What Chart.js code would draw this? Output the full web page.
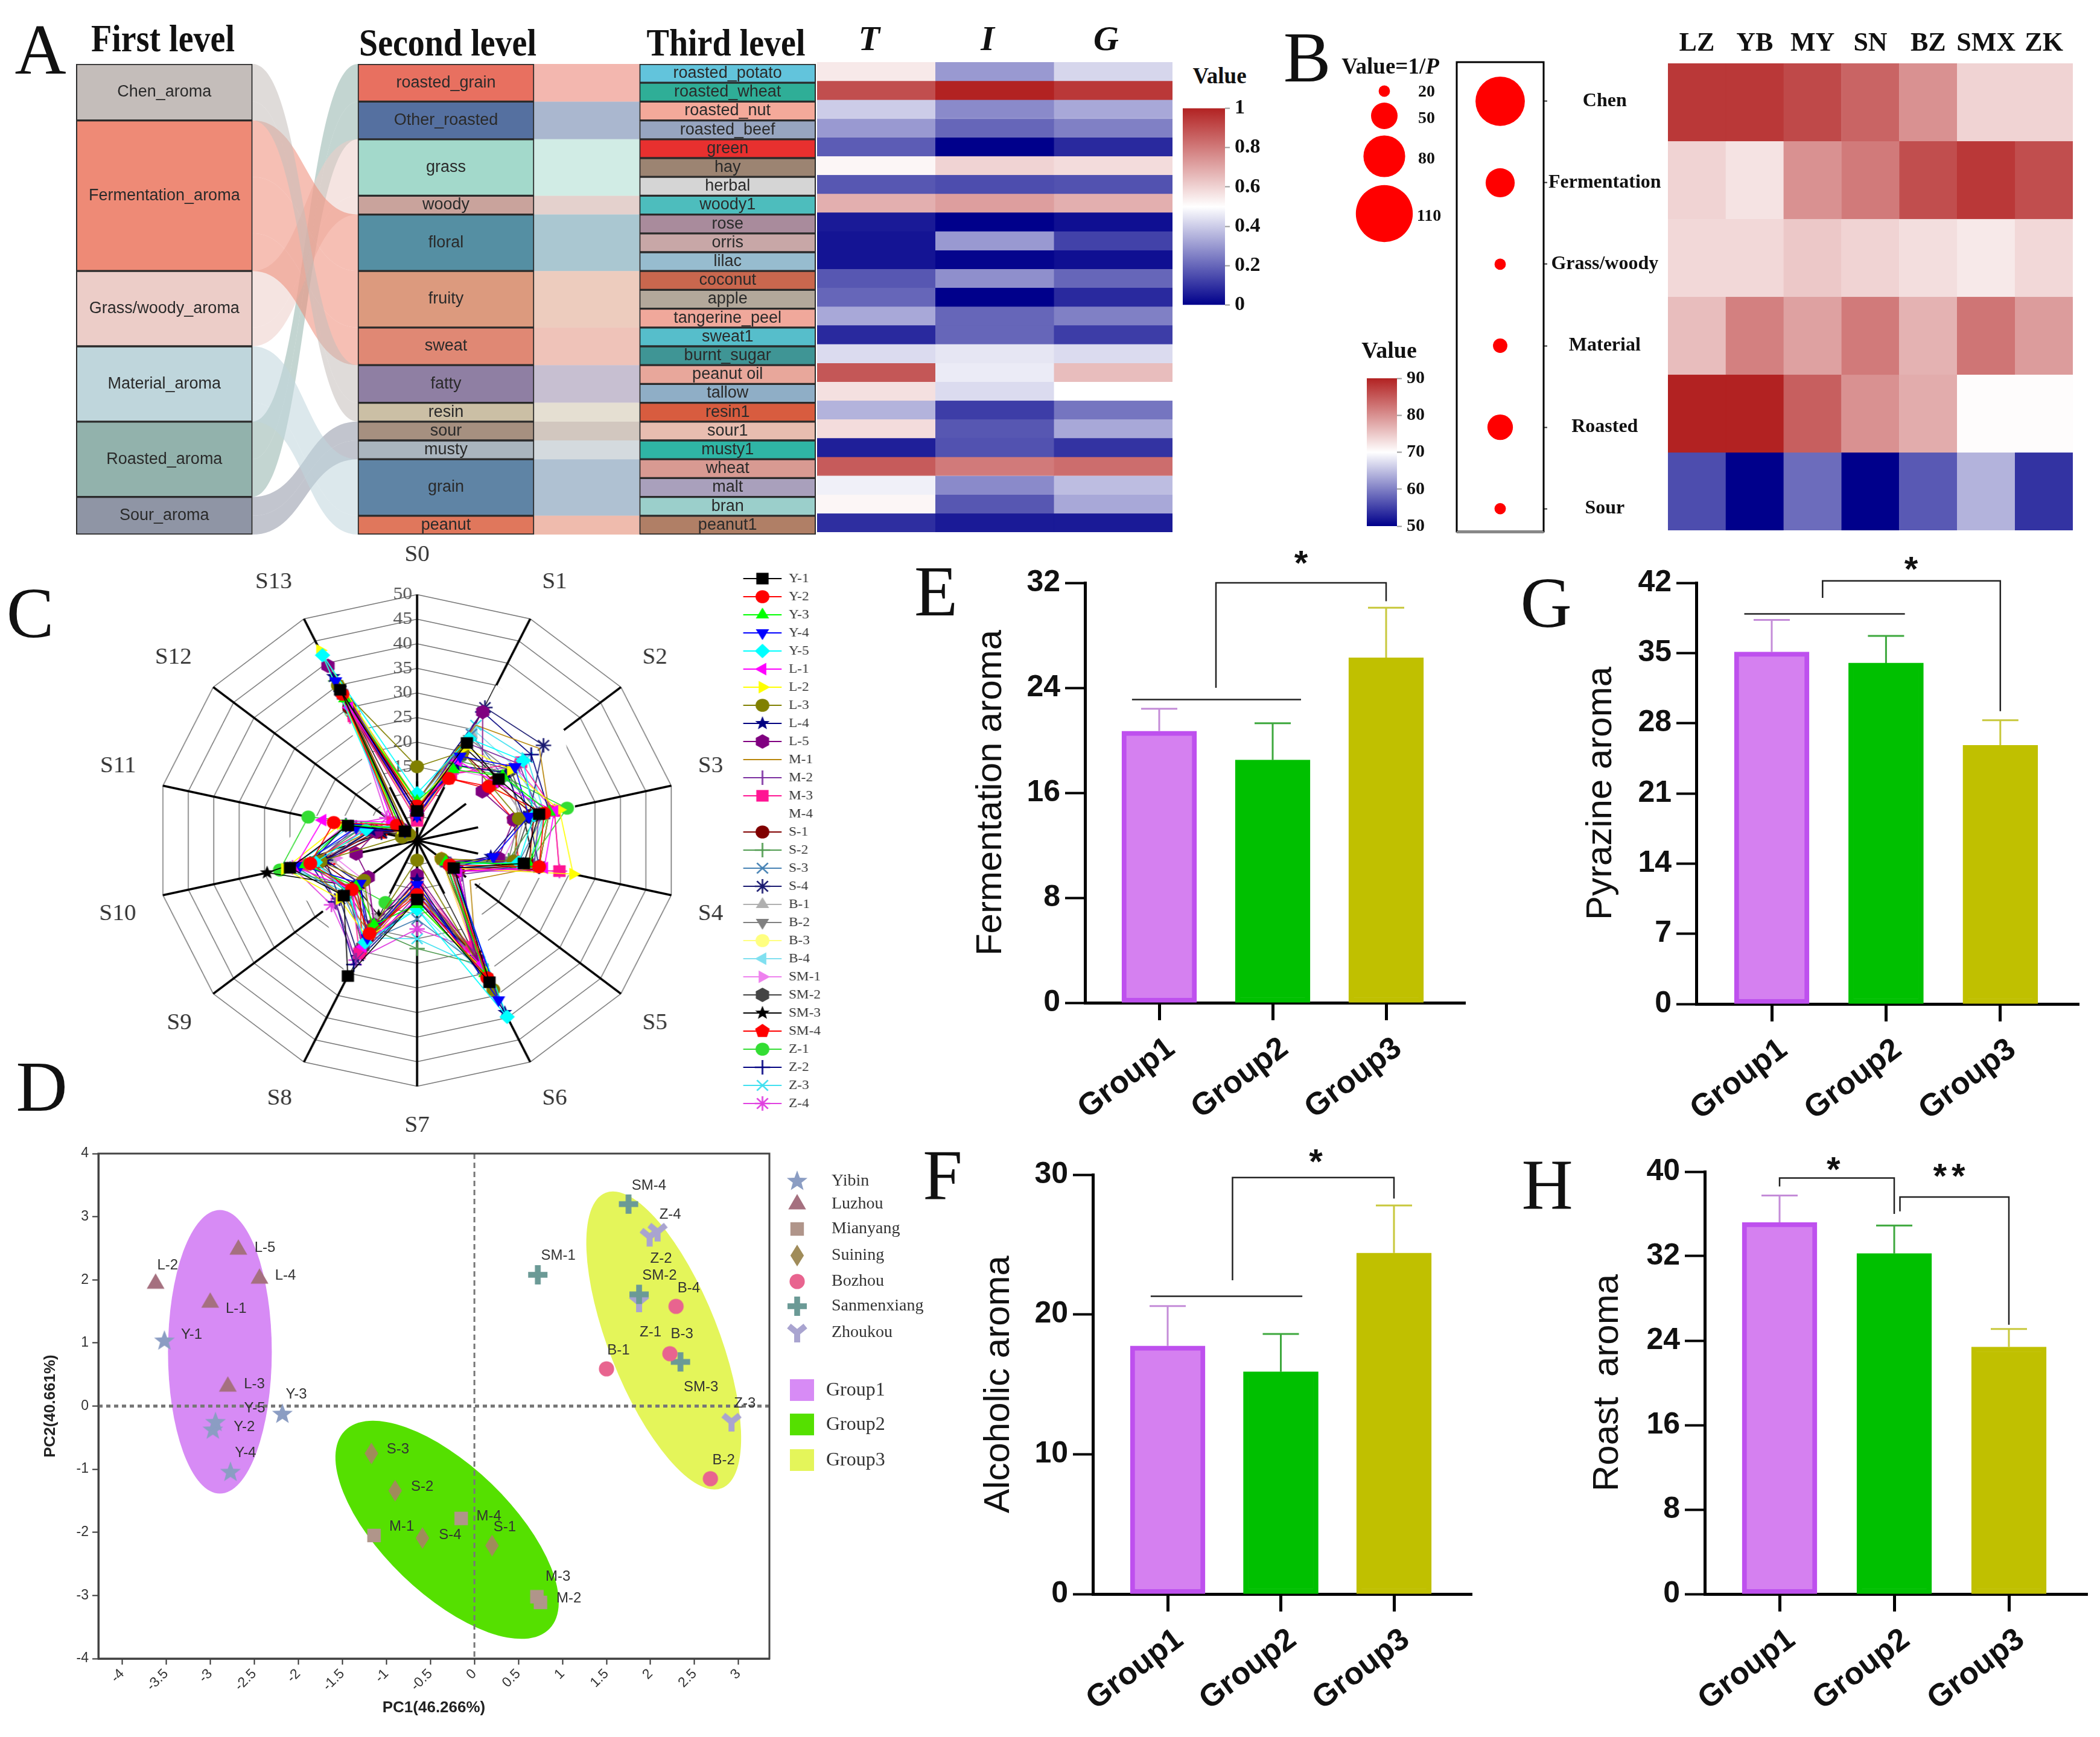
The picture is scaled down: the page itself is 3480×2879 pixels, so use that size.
<!DOCTYPE html>
<html>
<head>
<meta charset="utf-8">
<title>Aroma panels</title>
<script src="https://cdn.jsdelivr.net/npm/chart.js@4/dist/chart.umd.min.js"></script>
<style>
  html, body { margin: 0; padding: 0; background: #fff; }
  #page { position: relative; width: 3480px; height: 2879px; overflow: hidden; background: #fff; }
  #page canvas { position: absolute; }
  .txt { position: absolute; white-space: nowrap; line-height: 1; color: #111; font-family: 'Liberation Serif', serif; }
</style>
</head>
<body>
<div id="page"></div>
<script>
// ---- panel A
const firstNames = ["Chen_aroma", "Fermentation_aroma", "Grass/woody_aroma", "Material_aroma", "Roasted_aroma", "Sour_aroma"];
const firstSizes = [3, 8, 4, 4, 4, 2];
const firstColors = ["#C4BDBA", "#EE8A76", "#ECCDC8", "#BFD6DC", "#92B2AC", "#8F95A5"];
const secondNames = ["roasted_grain", "Other_roasted", "grass", "woody", "floral", "fruity", "sweat", "fatty", "resin", "sour", "musty", "grain", "peanut"];
const secondSizes = [2, 2, 3, 1, 3, 3, 2, 2, 1, 1, 1, 3, 1];
const secondParent = [4, 4, 2, 2, 1, 1, 1, 0, 0, 5, 5, 3, 3];
const secondColors = ["#E87060", "#5570A0", "#A3D9CB", "#C9A39C", "#558FA3", "#DC9A7E", "#E08874", "#8F7FA3", "#CBBFA5", "#A69080", "#AAB5BE", "#5F84A5", "#E0775C"];
const thirdNames = ["roasted_potato", "roasted_wheat", "roasted_nut", "roasted_beef", "green", "hay", "herbal", "woody1", "rose", "orris", "lilac", "coconut", "apple", "tangerine_peel", "sweat1", "burnt_sugar", "peanut oil", "tallow", "resin1", "sour1", "musty1", "wheat", "malt", "bran", "peanut1"];
const thirdColors = ["#62C4DC", "#2FAE97", "#F4A99A", "#97A5C0", "#E8302F", "#9C8472", "#D5D5D5", "#4DBDBD", "#A98B9C", "#C8A7A7", "#97BCCF", "#C9674E", "#B3A89B", "#F0A89B", "#56BECB", "#3F9595", "#E8A79B", "#8FAEC6", "#D85C3F", "#E8BDB0", "#2FB5A5", "#D89A92", "#A9A0BC", "#9BCFCB", "#B07F66"];
const tigLabels = ["T", "I", "G"];
const tValues = [.55, .90, .40, .30, .18, .52, .17, .68, .05, .04, .04, .17, .20, .33, .08, .43, .88, .57, .35, .58, .06, .87, .47, .52, .09];
const iValues = [.30, 1.0, .27, .20, 0, .60, .15, .72, 0, .30, .01, .28, 0, .20, .20, .45, .46, .43, .12, .17, .16, .80, .27, .17, .05];
const gValues = [.42, .95, .33, .25, .08, .58, .16, .68, .03, .13, .03, .20, .08, .25, .12, .43, .65, .50, .23, .33, .10, .83, .37, .33, .05];

// ---- panel B
const regionLabels = ["LZ", "YB", "MY", "SN", "BZ", "SMX", "ZK"];
const aromaRows = ["Chen", "Fermentation", "Grass/woody", "Material", "Roasted", "Sour"];
const chenHeat = [88, 88, 86.5, 84, 80, 74, 74];
const fermentationHeat = [74, 72.5, 80, 82, 86, 88, 86];
const grassHeat = [73.5, 73.5, 75, 74, 73, 72, 73.5];
const materialHeat = [76, 81.5, 78.5, 82, 77, 82.5, 79];
const roastedHeat = [90, 90, 84.5, 80, 77.5, 70.3, 70.3];
const sourHeat = [56, 50, 58.5, 50, 57, 64, 54];
const bubbleValues = [95, 55, 20, 26, 48, 20];
const bubbleKeyValues = [20, 50, 80, 110];

// ---- panel C
const radarAxes = ["S0", "S1", "S2", "S3", "S4", "S5", "S6", "S7", "S8", "S9", "S10", "S11", "S12", "S13"];
const radarRows = {
  "Y-1": [6, 22, 20, 24, 21, 9, 32, 12, 30.6, 18, 25, 13.6, 3, 34],
  "Y-2": [7, 14, 17.6, 25, 24, 8, 31, 11, 21, 16, 21, 16.4, 5, 33],
  "Y-3": [8, 16, 21, 26, 22, 7, 30, 13, 19, 15, 22, 14, 4, 32],
  "Y-4": [5, 19, 24, 22, 15, 9, 36, 9, 22, 14, 23, 12, 3, 36],
  "Y-5": [9.6, 23, 26, 23, 20, 8, 39.8, 14, 23, 17, 20, 10, 5, 41.8],
  "L-1": [6, 18, 19, 27, 25, 10, 28, 12, 24, 16, 24, 18.6, 6, 30],
  "L-2": [7, 21, 23, 28, 30.7, 9, 29, 13, 22, 19, 26, 15, 4, 42.9],
  "L-3": [15, 20, 18, 20, 19, 6, 33.7, 4, 20, 13, 19, 3, 2, 35],
  "L-4": [5, 17, 22, 21, 14.5, 8, 38.8, 8, 21, 14, 18, 9, 3, 37],
  "L-5": [6, 29, 16, 19, 16, 7, 27, 7, 19, 12, 12, 8, 4, 39.4],
  "M-1": [8, 26, 30, 26, 24, 13, 26, 10, 21, 18, 23, 9, 5, 38],
  "M-2": [6, 22, 25, 24, 23, 11, 25, 11, 27, 20, 20, 12, 4, 31],
  "M-3": [4, 15, 25.5, 27, 28, 9, 24, 9.5, 25.5, 16, 22, 10, 6, 28],
  "M-4": [0, 35, 36, 31, 31, 14, 39, 0, 31, 23, 30, 22, 8, 43],
  "S-1": [5, 20, 19, 23, 22, 10, 27, 10, 22, 15, 19, 8, 3, 30],
  "S-2": [7, 18, 22, 24, 18, 8, 28, 22, 20, 17, 21, 11, 4, 36],
  "S-3": [8, 24, 21, 25, 20, 7, 29, 16, 23, 18, 24, 11, 5, 33],
  "S-4": [6, 30, 31, 22, 24, 9, 26, 12, 26, 19, 18, 7, 3, 33.7],
  "B-1": [5, 24, 20, 21, 19, 8, 30, 11, 18, 14, 17, 9, 4, 29],
  "B-2": [6, 23, 22.7, 20, 18, 7, 29, 10, 20, 16, 20, 8, 3, 31],
  "B-3": [4, 20, 18, 24, 22, 6, 25, 9, 19, 15, 22, 10, 2, 35],
  "B-4": [7, 25, 24, 25, 23, 9, 31, 14, 21, 18, 23, 12, 3, 39],
  "SM-1": [5, 16, 20, 21, 17, 8, 26, 8, 18, 13, 16, 11, 4, 28],
  "SM-2": [6, 19, 23, 22, 19, 8, 27, 9, 24, 17, 19, 9, 3, 30],
  "SM-3": [4, 21, 20, 21, 23, 7, 30.6, 10, 17, 15, 29.5, 6.8, 2, 31],
  "SM-4": [5, 14, 17, 19, 20, 6, 25.5, 8, 24.5, 14, 17, 7, 2, 28],
  "Z-1": [7, 17, 21, 29.5, 21.8, 9, 27, 11, 14, 15, 27, 21.4, 5, 29],
  "Z-2": [8, 29, 28, 26, 24, 10, 28, 12, 28, 20, 21, 14, 4, 32],
  "Z-3": [6, 26, 27, 25, 22, 9, 29, 20, 22, 17, 25, 13, 3, 30],
  "Z-4": [5, 15, 24, 27, 28, 10, 24.5, 18, 27, 21, 24.5, 14, 7.4, 27.5]
};
const radarStyles = {
  "Y-1": ["#000000", "rect"], "Y-2": ["#FF0000", "circle"], "Y-3": ["#00FF00", "triUp"], "Y-4": ["#0000FF", "triDown"], "Y-5": ["#00FFFF", "diamond"],
  "L-1": ["#FF00FF", "triLeft"], "L-2": ["#FFFF00", "triRight"], "L-3": ["#808000", "circle"], "L-4": ["#000080", "star"], "L-5": ["#800080", "hex"],
  "M-1": ["#B8860B", "none"], "M-2": ["#7B2FA0", "bar"], "M-3": ["#FF1493", "rect"], "M-4": ["#FFFFFF", "none"],
  "S-1": ["#800000", "circle"], "S-2": ["#4D9A4D", "plus"], "S-3": ["#4682B4", "cross"], "S-4": ["#191970", "asterisk"],
  "B-1": ["#B0B0B0", "triUp"], "B-2": ["#808080", "triDown"], "B-3": ["#FFFF80", "circle"], "B-4": ["#80E0F0", "triLeft"],
  "SM-1": ["#EE82EE", "triRight"], "SM-2": ["#444444", "hex"], "SM-3": ["#000000", "star"], "SM-4": ["#FF0000", "pent"],
  "Z-1": ["#33DD33", "circle"], "Z-2": ["#000080", "plus"], "Z-3": ["#40E0F0", "cross"], "Z-4": ["#E040E0", "asterisk"]
};

// ---- panel D
const pcaSites = ["Yibin", "Luzhou", "Mianyang", "Suining", "Bozhou", "Sanmenxiang", "Zhoukou"];
const yibinNames = ["Y-1", "Y-2", "Y-3", "Y-4", "Y-5"];
const yibinX = [-3.52, -2.97, -2.18, -2.77, -2.94];
const yibinY = [1.03, -0.38, -0.13, -1.05, -0.26];
const luzhouNames = ["L-1", "L-2", "L-3", "L-4", "L-5"];
const luzhouX = [-3.0, -3.62, -2.80, -2.44, -2.68];
const luzhouY = [1.64, 1.94, 0.31, 2.02, 2.48];
const mianyangNames = ["M-1", "M-2", "M-3", "M-4"];
const mianyangX = [-1.14, 0.75, 0.71, -0.15];
const mianyangY = [-2.05, -3.11, -3.02, -1.78];
const suiningNames = ["S-1", "S-2", "S-3", "S-4"];
const suiningX = [0.2, -0.9, -1.17, -0.59];
const suiningY = [-2.21, -1.34, -0.75, -2.09];
const bozhouNames = ["B-1", "B-2", "B-3", "B-4"];
const bozhouX = [1.5, 2.68, 2.22, 2.29];
const bozhouY = [0.59, -1.15, 0.83, 1.58];
const sanmenNames = ["SM-1", "SM-2", "SM-3", "SM-4"];
const sanmenX = [0.72, 1.87, 2.34, 1.75];
const sanmenY = [2.08, 1.77, 0.70, 3.2];
const zhoukouNames = ["Z-1", "Z-2", "Z-3", "Z-4"];
const zhoukouX = [1.87, 1.99, 2.92, 2.08];
const zhoukouY = [1.64, 2.68, -0.25, 2.76];
const pcaXTicks = [-4, -3.5, -3, -2.5, -2, -1.5, -1, -0.5, 0, 0.5, 1, 1.5, 2, 2.5, 3];
const groupNames = ["Group1", "Group2", "Group3"];

// ---- panels E-H
const fermentationMeans = [20.7, 18.5, 26.3];
const fermentationErrs = [1.7, 2.8, 3.8];
const pyrazineMeans = [35.1, 34.0, 25.8];
const pyrazineErrs = [3.2, 2.7, 2.5];
const alcoholicMeans = [17.75, 15.9, 24.4];
const alcoholicErrs = [2.85, 2.7, 3.4];
const roastMeans = [35.2, 32.25, 23.4];
const roastErrs = [2.55, 2.65, 1.7];

const SANS = "'Liberation Sans', Arial, sans-serif";
const SERIF = "'Liberation Serif', 'Times New Roman', serif";
const page = document.getElementById("page");
Chart.defaults.animation = false;
Chart.defaults.responsive = false;
Chart.defaults.maintainAspectRatio = false;
Chart.defaults.devicePixelRatio = 1;
Chart.defaults.layout.autoPadding = false;
Chart.defaults.plugins.legend.display = false;
Chart.defaults.plugins.tooltip.enabled = false;

function addCanvas(left, top, w, h) {
  const c = document.createElement("canvas");
  c.width = w; c.height = h;
  c.style.left = left + "px"; c.style.top = top + "px";
  c.style.width = w + "px"; c.style.height = h + "px";
  page.appendChild(c);
  return c;
}

function addText(html, cx, cy, font, sy) {
  const d = document.createElement("div");
  d.className = "txt";
  d.innerHTML = html;
  d.style.left = cx + "px"; d.style.top = cy + "px";
  d.style.font = font;
  d.style.lineHeight = "1";
  d.style.transform = "translate(-50%,-50%) scaleY(" + (sy || 1) + ")";
  page.appendChild(d);
}

function heatColor(v, lo, hi) {
  const mid = (lo + hi) / 2;
  let a, b, t;
  if (v < mid) { a = [0, 0, 139]; b = [255, 255, 255]; t = (v - lo) / (mid - lo); }
  else { a = [255, 255, 255]; b = [178, 34, 34]; t = (v - mid) / (hi - mid); }
  const m = a.map((c, i) => Math.round(c + (b[i] - c) * t));
  return "rgb(" + m.join(",") + ")";
}

function markerImage(shape, color, size) {
  const c = document.createElement("canvas");
  c.width = c.height = size;
  const x = c.getContext("2d");
  x.translate(size / 2, size / 2);
  x.fillStyle = color; x.strokeStyle = color;
  const r = size / 2 - 1;
  const poly = (pts) => {
    x.beginPath();
    pts.forEach((p, i) => (i ? x.lineTo(p[0], p[1]) : x.moveTo(p[0], p[1])));
    x.closePath(); x.fill();
  };
  const ring = (n, rot, rad) => Array.from({ length: n }, (_, i) => {
    const a = rot + i * 2 * Math.PI / n;
    return [rad * Math.cos(a), rad * Math.sin(a)];
  });
  const up = -Math.PI / 2;
  x.lineWidth = Math.max(2, size / 10);
  if (shape === "rect") x.fillRect(-r * .8, -r * .8, r * 1.6, r * 1.6);
  else if (shape === "circle") { x.beginPath(); x.arc(0, 0, r * .9, 0, 7); x.fill(); }
  else if (shape === "triUp") poly(ring(3, up, r));
  else if (shape === "triDown") poly(ring(3, -up, r));
  else if (shape === "triLeft") poly(ring(3, Math.PI, r));
  else if (shape === "triRight") poly(ring(3, 0, r));
  else if (shape === "diamond") poly(ring(4, up, r));
  else if (shape === "tallDiamond") poly([[0, -r], [r * .62, 0], [0, r], [-r * .62, 0]]);
  else if (shape === "hex") poly(ring(6, up, r));
  else if (shape === "pent") poly(ring(5, up, r));
  else if (shape === "star") {
    const o = ring(5, up, r), n = ring(5, up + Math.PI / 5, r * .42), pts = [];
    o.forEach((p, i) => { pts.push(p); pts.push(n[i]); });
    poly(pts);
  } else if (shape === "fatPlus") {
    x.fillRect(-r * .3, -r, r * .6, r * 2); x.fillRect(-r, -r * .3, r * 2, r * .6);
  } else if (shape === "yShape") {
    x.lineWidth = r * .62;
    x.beginPath(); x.moveTo(0, r); x.lineTo(0, 0); x.moveTo(-r * .85, -r * .7); x.lineTo(0, 0); x.lineTo(r * .85, -r * .7); x.stroke();
  } else if (shape === "bar") {
    x.beginPath(); x.moveTo(0, -r); x.lineTo(0, r); x.stroke();
  } else if (shape === "plus" || shape === "cross" || shape === "asterisk") {
    x.beginPath();
    if (shape !== "cross") { x.moveTo(0, -r); x.lineTo(0, r); x.moveTo(-r, 0); x.lineTo(r, 0); }
    if (shape !== "plus") { const k = r * .72; x.moveTo(-k, -k); x.lineTo(k, k); x.moveTo(-k, k); x.lineTo(k, -k); }
    x.stroke();
  }
  return c;
}

// ---- A: sankey columns as a stacked bar chart, ribbons drawn behind
function ribbon(ctx, x0, x1, a0, b0, a1, b1, color, alpha) {
  const m = (x0 + x1) / 2;
  ctx.save();
  ctx.globalAlpha = alpha;
  ctx.fillStyle = color;
  ctx.beginPath();
  ctx.moveTo(x0, a0);
  ctx.bezierCurveTo(m, a0, m, a1, x1, a1);
  ctx.lineTo(x1, b1);
  ctx.bezierCurveTo(m, b1, m, b0, x0, b0);
  ctx.closePath();
  ctx.fill();
  ctx.restore();
}

const columnOf = (names, sizes, colors, col) => names.map((n, i) => {
  const data = [null, null, null];
  data[col] = sizes[i];
  return { label: n, data: data, backgroundColor: colors[i] };
});
const thirdSizes = thirdNames.map(() => 1);

const sankeyPlugin = {
  id: "sankeyLinks",
  beforeDatasetsDraw(chart) {
    const { ctx, scales } = chart;
    const Y = v => scales.y.getPixelForValue(v);
    const half = 146;
    const c0 = scales.x.getPixelForValue(0) + half, c1 = scales.x.getPixelForValue(1) - half;
    const c1r = scales.x.getPixelForValue(1) + half, c2 = scales.x.getPixelForValue(2) - half;
    let acc = 0;
    const cursor = firstSizes.map(s => { const t = acc; acc += s; return t; });
    let pos = 0;
    secondNames.forEach((n, i) => {
      const p = secondParent[i], s = secondSizes[i];
      ribbon(ctx, c0, c1, Y(cursor[p]), Y(cursor[p] + s), Y(pos), Y(pos + s), firstColors[p], 0.55);
      ribbon(ctx, c1r, c2, Y(pos), Y(pos + s), Y(pos), Y(pos + s), secondColors[i], 0.5);
      cursor[p] += s;
      pos += s;
    });
  },
  afterDatasetsDraw(chart) {
    const { ctx } = chart;
    ctx.save();
    ctx.textAlign = "center";
    ctx.textBaseline = "middle";
    ctx.fillStyle = "#2a2a2a";
    ctx.font = "27px " + SANS;
    chart.data.datasets.forEach((ds, i) => {
      const col = ds.data.findIndex(v => v !== null);
      const bar = chart.getDatasetMeta(i).data[col];
      ctx.fillText(ds.label, bar.x, (bar.y + bar.base) / 2);
    });
    ctx.restore();
  }
};

new Chart(addCanvas(39, 96, 1400, 794), {
  type: "bar",
  data: {
    labels: ["First level", "Second level", "Third level"],
    datasets: columnOf(firstNames, firstSizes, firstColors, 0)
      .concat(columnOf(secondNames, secondSizes, secondColors, 1))
      .concat(columnOf(thirdNames, thirdSizes, thirdColors, 2))
      .map(d => Object.assign(d, { borderColor: "#2b2b2b", borderWidth: 2, borderSkipped: false, barThickness: 292 }))
  },
  options: {
    layout: { padding: { top: 10, bottom: 4 } },
    scales: {
      x: { display: false, stacked: true },
      y: { display: false, stacked: true, reverse: true, min: 0, max: 25 }
    }
  },
  plugins: [sankeyPlugin]
});

// ---- A: heatmap
function cellDataset(label, vals, lo, hi) {
  const colors = vals.map(v => heatColor(v, lo, hi));
  return { label: label, data: vals.map(() => 1), backgroundColor: colors, borderColor: colors, borderWidth: 1, borderSkipped: false, barPercentage: 1, categoryPercentage: 1 };
}

new Chart(addCanvas(1354, 20, 589, 865), {
  type: "bar",
  data: {
    labels: tigLabels,
    datasets: thirdNames.map((n, r) => cellDataset(n, [tValues[r], iValues[r], gValues[r]], 0, 1))
  },
  options: {
    layout: { padding: { bottom: 3 } },
    scales: {
      x: {
        position: "top", stacked: true, afterFit: s => { s.height = 83; },
        grid: { display: false, drawTicks: false }, border: { display: false },
        ticks: { color: "#111", labelOffset: -12, padding: 0, font: { family: SERIF, size: 58, weight: "bold", style: "italic" } }
      },
      y: { display: false, stacked: true, reverse: true, min: 0, max: 25 }
    }
  }
});

// ---- colour bars
function colorBar(left, top, w, h, lo, hi, step, font, padR) {
  new Chart(addCanvas(left, top, w, h), {
    type: "bar",
    data: {
      labels: ["Value"],
      datasets: [{
        data: [[lo, hi]],
        barPercentage: 1, categoryPercentage: 1,
        backgroundColor(ctx) {
          const a = ctx.chart.chartArea;
          if (!a) return "#fff";
          const g = ctx.chart.ctx.createLinearGradient(0, a.bottom, 0, a.top);
          g.addColorStop(0, "#00008B");
          g.addColorStop(0.5, "#FFFFFF");
          g.addColorStop(1, "#B22222");
          return g;
        }
      }]
    },
    options: {
      layout: { padding: { top: 20, bottom: 20 } },
      scales: {
        x: { display: false },
        y: {
          position: "right", min: lo, max: hi,
          afterFit: s => { s.width = padR; },
          grid: { drawOnChartArea: false, tickLength: 8, tickColor: "#999", tickWidth: 2 },
          border: { display: false },
          ticks: { stepSize: step, padding: 8, color: "#111", font: font, callback: v => String(+v.toFixed(1)) }
        }
      }
    }
  });
}
colorBar(1960, 151, 170, 383, 0, 1, 0.2, { family: SERIF, size: 34, weight: "bold" }, 100);
colorBar(2265, 601, 120, 297, 50, 90, 10, { family: SERIF, size: 30, weight: "bold" }, 70);

// ---- B: bubbles with key, and the heatmap
const bubbleRadius = v => v * 0.42 + 1;
const bubblePlugin = {
  id: "bubbleFrame",
  afterDatasetsDraw(chart) {
    const { ctx, chartArea: a } = chart;
    ctx.save();
    ctx.strokeStyle = "#000";
    ctx.lineWidth = 3;
    ctx.strokeRect(a.left, a.top, a.right - a.left, a.bottom - a.top);
    ctx.strokeStyle = "#888";
    ctx.lineWidth = 4;
    ctx.beginPath(); ctx.moveTo(a.left, a.bottom + 1); ctx.lineTo(a.right, a.bottom + 1); ctx.stroke();
    // size key, left of the frame
    const keyY = [56, 97, 164, 259];
    ctx.fillStyle = "#FF0000";
    bubbleKeyValues.forEach((v, i) => {
      ctx.beginPath(); ctx.arc(54, keyY[i], bubbleRadius(v), 0, 7); ctx.fill();
    });
    ctx.fillStyle = "#111";
    ctx.font = "bold 28px " + SERIF;
    ctx.textAlign = "center"; ctx.textBaseline = "middle";
    bubbleKeyValues.forEach((v, i) => ctx.fillText(String(v), 124 + (i === 3 ? 4 : 0), keyY[i] + (i === 0 ? 2 : 5)));
    ctx.restore();
  }
};

new Chart(addCanvas(2240, 95, 530, 795), {
  type: "bubble",
  data: {
    datasets: [{
      label: "Value=1/P",
      data: bubbleValues.map((v, i) => ({ x: 0, y: i, r: bubbleRadius(v) })),
      backgroundColor: "#FF0000", borderWidth: 0, clip: false
    }]
  },
  options: {
    layout: { padding: { left: 174, top: 8, bottom: 9 } },
    scales: {
      x: { display: false, min: -1, max: 1 },
      y: {
        position: "right", reverse: true, min: -0.48, max: 5.28,
        afterFit: s => { s.width = 212; s.paddingTop = 0; s.paddingBottom = 0; },
        afterBuildTicks: s => { s.ticks = aromaRows.map((_, i) => ({ value: i })); },
        grid: { drawOnChartArea: false, tickLength: 6, tickColor: "#333", tickWidth: 2 },
        border: { display: false },
        ticks: {
          callback: v => aromaRows[v], padding: 2, color: "#111", crossAlign: "center",
          font: { family: SERIF, size: 32, weight: "bold" }
        }
      }
    }
  },
  plugins: [bubblePlugin]
});

new Chart(addCanvas(2764, 30, 671, 852), {
  type: "bar",
  data: {
    labels: regionLabels,
    datasets: [chenHeat, fermentationHeat, grassHeat, materialHeat, roastedHeat, sourHeat]
      .map((row, i) => cellDataset(aromaRows[i], row, 50, 90))
  },
  options: {
    layout: { padding: { bottom: 3 } },
    scales: {
      x: {
        position: "top", stacked: true, afterFit: s => { s.height = 75; },
        grid: { display: false, drawTicks: false }, border: { display: false },
        ticks: { color: "#111", padding: 6, autoSkip: false, maxRotation: 0, font: { family: SERIF, size: 44, weight: "bold" } }
      },
      y: { display: false, stacked: true, reverse: true, min: 0, max: 6 }
    }
  }
});

// ---- C: radar
const radarNames = Object.keys(radarRows);
const MASK = radarNames.indexOf("M-4");
const radarPlugin = {
  id: "radarExtras",
  beforeDraw(chart) {
    // line part of each legend key, under the marker
    const { ctx, legend } = chart;
    ctx.save();
    ctx.lineWidth = 2;
    legend.legendHitBoxes.forEach((b, i) => {
      ctx.strokeStyle = radarStyles[radarNames[i]][0];
      ctx.beginPath();
      ctx.moveTo(b.left, b.top + b.height / 2);
      ctx.lineTo(b.left + 60, b.top + b.height / 2);
      ctx.stroke();
    });
    ctx.restore();
  },
  afterDatasetDraw(chart, args) {
    if (args.index !== MASK) return;
    const { ctx } = chart;
    const r = chart.scales.r;
    ctx.save();
    ctx.strokeStyle = "#000";
    ctx.lineWidth = 3.5;
    radarAxes.forEach((n, i) => {
      const p = r.getPointPositionForValue(i, 12);
      ctx.beginPath(); ctx.moveTo(r.xCenter, r.yCenter); ctx.lineTo(p.x, p.y); ctx.stroke();
    });
    ctx.restore();
  }
};

const radarCanvas = addCanvas(141, 899, 1160, 990);
radarCanvas.style.transformOrigin = "left top";
radarCanvas.style.transform = "scaleX(1.06)";
new Chart(radarCanvas, {
  type: "radar",
  data: {
    labels: radarAxes,
    datasets: radarNames.map((n, i) => {
      const st = radarStyles[n];
      return {
        label: n,
        data: radarRows[n],
        borderColor: st[0],
        backgroundColor: st[0],
        borderWidth: i === MASK ? 1 : 1.6,
        fill: i === MASK ? "start" : false,
        order: i === MASK ? 100 : i,
        pointStyle: markerImage(st[1], st[0], 26),
        pointRadius: 10
      };
    })
  },
  options: {
    plugins: {
      legend: {
        display: true, position: "right",
        labels: {
          usePointStyle: true, pointStyleWidth: 60, boxHeight: 20, padding: 8, color: "#333",
          font: { family: SERIF, size: 22 },
          sort: (a, b) => a.datasetIndex - b.datasetIndex
        }
      }
    },
    scales: {
      r: {
        min: 0, max: 50,
        grid: { color: "#777", lineWidth: 1.5 },
        angleLines: { color: "#000", lineWidth: 3.5 },
        pointLabels: { color: "#333", padding: 26, font: { family: SERIF, size: 37 } },
        ticks: {
          stepSize: 5, showLabelBackdrop: false, color: "#555",
          font: { family: SERIF, size: 30 },
          callback: v => (v >= 15 ? v + "\u00a0\u00a0\u00a0\u00a0\u00a0\u00a0" : "")
        }
      }
    }
  },
  plugins: [radarPlugin]
});

// ---- D: PCA scatter
const pcaStyles = [
  ["star", "#8B9DC3", 38], ["triUp", "#A5707F", 36], ["rect", "#B0958A", 30], ["tallDiamond", "#A08C5A", 38],
  ["circle", "#E8648F", 30], ["fatPlus", "#6B9A96", 34], ["yShape", "#A9A4D0", 34]
];
const pcaColumns = [
  [yibinNames, yibinX, yibinY], [luzhouNames, luzhouX, luzhouY], [mianyangNames, mianyangX, mianyangY],
  [suiningNames, suiningX, suiningY], [bozhouNames, bozhouX, bozhouY], [sanmenNames, sanmenX, sanmenY], [zhoukouNames, zhoukouX, zhoukouY]
];
const labelShift = {
  "Y-1": [45, -10], "Y-2": [52, -5], "Y-3": [23, -33], "Y-4": [25, -32], "Y-5": [65, -23],
  "L-1": [43, 10], "L-2": [20, -30], "L-3": [44, -4], "L-4": [43, -5], "L-5": [44, -3],
  "M-1": [46, -15], "M-2": [47, -7], "M-3": [35, -33], "M-4": [46, -3],
  "S-1": [21, -30], "S-2": [45, -6], "S-3": [44, -7], "S-4": [46, -5],
  "B-1": [20, -30], "B-2": [22, -30], "B-3": [20, -32], "B-4": [21, -30],
  "SM-1": [34, -32], "SM-2": [34, -31], "SM-3": [34, 42], "SM-4": [34, -30],
  "Z-1": [19, 49], "Z-2": [19, 36], "Z-3": [22, -30], "Z-4": [21, -28]
};
const ellipses = [
  { cx: -2.89, cy: 0.86, a: 235, b: 86, rot: 90, color: "#D78BF5" },
  { cx: -0.31, cy: -1.96, a: 236, b: 106, rot: 44, color: "#55E000" },
  { cx: 2.15, cy: 1.04, a: 263, b: 91, rot: 68.5, color: "#E4F55A" }
];
const groupSwatches = ["#D78BF5", "#55E000", "#E4F55A"];

const pcaPlugin = {
  id: "pcaExtras",
  beforeDatasetsDraw(chart) {
    const { ctx, chartArea: a, scales } = chart;
    ctx.save();
    ellipses.forEach(e => {
      ctx.fillStyle = e.color;
      ctx.beginPath();
      ctx.ellipse(scales.x.getPixelForValue(e.cx), scales.y.getPixelForValue(e.cy), e.a, e.b, e.rot * Math.PI / 180, 0, 7);
      ctx.fill();
    });
    ctx.strokeStyle = "#777";
    ctx.lineWidth = 3;
    ctx.setLineDash([9, 6]);
    ctx.beginPath(); ctx.moveTo(scales.x.getPixelForValue(0), a.top); ctx.lineTo(scales.x.getPixelForValue(0), a.bottom); ctx.stroke();
    ctx.lineWidth = 5;
    ctx.setLineDash([7, 6]);
    ctx.beginPath(); ctx.moveTo(a.left, scales.y.getPixelForValue(0)); ctx.lineTo(a.right, scales.y.getPixelForValue(0)); ctx.stroke();
    ctx.restore();
  },
  afterDatasetsDraw(chart) {
    const { ctx, chartArea: a } = chart;
    ctx.save();
    ctx.strokeStyle = "#444";
    ctx.lineWidth = 3;
    ctx.strokeRect(a.left, a.top, a.right - a.left, a.bottom - a.top);
    ctx.fillStyle = "#333";
    ctx.font = "24px " + SANS;
    ctx.textAlign = "center"; ctx.textBaseline = "middle";
    chart.data.datasets.forEach((ds, i) => {
      chart.getDatasetMeta(i).data.forEach((pt, j) => {
        const name = pcaColumns[i][0][j], s = labelShift[name];
        ctx.fillText(name, pt.x + s[0], pt.y + s[1]);
      });
    });
    // site and group key, right of the plot
    const keyY = [68, 106, 147, 191, 234, 275, 319];
    ctx.textAlign = "left";
    ctx.font = "28px " + SERIF;
    pcaSites.forEach((n, i) => {
      const img = chart.data.datasets[i].pointStyle;
      ctx.drawImage(img, 1253 - img.width / 2, keyY[i] - img.height / 2);
      ctx.fillText(n, 1310, keyY[i]);
    });
    const swatchY = [396, 453, 512];
    ctx.font = "32px " + SERIF;
    groupNames.forEach((n, i) => {
      ctx.fillStyle = groupSwatches[i];
      ctx.fillRect(1241, swatchY[i], 40, 36);
      ctx.fillStyle = "#333";
      ctx.fillText(n, 1301, swatchY[i] + 19);
    });
    ctx.restore();
  }
};

new Chart(addCanvas(68, 1890, 1500, 956), {
  type: "scatter",
  data: {
    datasets: pcaColumns.map((col, i) => ({
      label: pcaSites[i],
      data: col[1].map((x, j) => ({ x: x, y: col[2][j] })),
      pointStyle: markerImage(pcaStyles[i][0], pcaStyles[i][1], pcaStyles[i][2]),
      pointRadius: 14
    }))
  },
  options: {
    layout: { padding: { top: 22, right: 293 } },
    scales: {
      x: {
        min: -4.27, max: 3.35,
        afterFit: s => { s.height = 97; },
        afterBuildTicks: s => { s.ticks = pcaXTicks.map(v => ({ value: v })); },
        grid: { display: true, drawOnChartArea: false, tickLength: 10, tickColor: "#333", tickWidth: 2 },
        border: { color: "#333", width: 3 },
        title: { display: true, text: "PC1(46.266%)", color: "#222", padding: 0, font: { family: SANS, size: 26, weight: "bold" } },
        ticks: { callback: v => String(v), color: "#333", padding: 2, maxRotation: 45, minRotation: 45, font: { family: SANS, size: 23 } }
      },
      y: {
        min: -4, max: 4,
        afterFit: s => { s.width = 95; },
        grid: { display: true, drawOnChartArea: false, tickLength: 10, tickColor: "#333", tickWidth: 2 },
        border: { color: "#333", width: 3 },
        title: { display: true, text: "PC2(40.661%)", color: "#222", padding: 0, font: { family: SANS, size: 26, weight: "bold" } },
        ticks: { stepSize: 1, callback: v => String(v), color: "#333", padding: 6, font: { family: SANS, size: 23 } }
      }
    }
  },
  plugins: [pcaPlugin]
});

// ---- E-H: bar panels
const groupFill = ["#D580F0", "#00C000", "#C0C000"];
const groupEdge = ["#BE50EE", "#00C000", "#C0C000"];
const errColor = ["#C48CD8", "#3DA83D", "#C8C83C"];

function barPanel(cfg) {
  const padTop = 70;
  const left = cfg.titleX - 36, top = cfg.top - padTop;
  const width = cfg.right - left + 20, height = cfg.bottom - top + 215;
  const xMin = 1 - (cfg.c1 - cfg.axis) / cfg.step, xMax = 1 + (cfg.right - cfg.c1) / cfg.step;
  const extras = {
    id: "errorsAndBrackets",
    afterDatasetsDraw(chart) {
      const { ctx, scales } = chart;
      const X = v => scales.x.getPixelForValue(v), Y = v => scales.y.getPixelForValue(v);
      ctx.save();
      cfg.means.forEach((m, i) => {
        ctx.strokeStyle = errColor[i];
        ctx.lineWidth = 3;
        ctx.beginPath();
        ctx.moveTo(X(i + 1), Y(m)); ctx.lineTo(X(i + 1), Y(m + cfg.errs[i]));
        ctx.moveTo(X(i + 1) - 30, Y(m + cfg.errs[i])); ctx.lineTo(X(i + 1) + 30, Y(m + cfg.errs[i]));
        ctx.stroke();
      });
      ctx.strokeStyle = "#222";
      ctx.lineWidth = 2.5;
      (cfg.brackets || []).forEach(b => {
        ctx.beginPath();
        ctx.moveTo(X(b[0]), Y(b[1])); ctx.lineTo(X(b[0]), Y(b[2])); ctx.lineTo(X(b[3]), Y(b[2])); ctx.lineTo(X(b[3]), Y(b[4]));
        ctx.stroke();
      });
      (cfg.spans || []).forEach(s => {
        ctx.beginPath(); ctx.moveTo(X(s[0]), Y(s[2])); ctx.lineTo(X(s[1]), Y(s[2])); ctx.stroke();
      });
      ctx.fillStyle = "#111";
      ctx.font = "bold 58px " + SANS;
      ctx.textAlign = "center"; ctx.textBaseline = "middle";
      (cfg.stars || []).forEach(s => {
        ctx.letterSpacing = s[0].length > 1 ? "8px" : "0px";
        ctx.fillText(s[0], X(s[1]), Y(s[2]) + 14);
      });
      ctx.restore();
    }
  };
  new Chart(addCanvas(left, top, width, height), {
    type: "bar",
    data: {
      datasets: [{
        label: cfg.title,
        data: cfg.means.map((m, i) => ({ x: i + 1, y: m })),
        backgroundColor: groupFill, borderColor: groupEdge, borderWidth: 8, borderSkipped: false,
        barThickness: 124
      }]
    },
    options: {
      layout: { padding: { top: padTop, right: 20 } },
      scales: {
        x: {
          type: "linear", min: xMin, max: xMax, offset: false,
          afterFit: s => { s.height = 215; },
          afterBuildTicks: s => { s.ticks = groupNames.map((_, i) => ({ value: i + 1 })); },
          grid: { display: true, offset: false, drawOnChartArea: false, tickLength: 29, tickWidth: 5, tickColor: "#000" },
          border: { color: "#000", width: 5 },
          ticks: { callback: v => groupNames[v - 1], color: "#111", padding: 16, labelOffset: 20, maxRotation: 37, minRotation: 37, font: { family: SANS, size: 52, weight: "bold" } }
        },
        y: {
          min: 0, max: cfg.max,
          afterFit: s => { s.width = cfg.axis - left; },
          grid: { display: true, drawOnChartArea: false, tickLength: 33, tickWidth: 4, tickColor: "#000" },
          border: { color: "#000", width: 5 },
          title: { display: true, text: cfg.title, color: "#111", padding: 0, font: { family: SANS, size: 60 } },
          ticks: { stepSize: cfg.stepY, color: "#111", padding: 8, font: { family: SANS, size: 50, weight: "bold" } }
        }
      }
    },
    plugins: [extras]
  });
}

barPanel({
  title: "Fermentation aroma", means: fermentationMeans, errs: fermentationErrs, max: 32, stepY: 8,
  titleX: 1642, axis: 1798, right: 2428, top: 966, bottom: 1662, c1: 1921, step: 188,
  brackets: [[1.5, 24, 32, 3, 30.6]], spans: [[0.76, 2.25, 23.1]], stars: [["*", 2.25, 34]]
});
barPanel({
  title: "Pyrazine aroma", means: pyrazineMeans, errs: pyrazineErrs, max: 42, stepY: 7,
  titleX: 2653, axis: 2811, right: 3445, top: 966, bottom: 1664, c1: 2936, step: 189.4,
  brackets: [[1.445, 40.5, 42.2, 3, 29.2]], spans: [[0.76, 2.165, 38.9]], stars: [["*", 2.22, 44]]
});
barPanel({
  title: "Alcoholic aroma", means: alcoholicMeans, errs: alcoholicErrs, max: 30, stepY: 10,
  titleX: 1655, axis: 1811, right: 2439, top: 1947, bottom: 2642, c1: 1935, step: 187.5,
  brackets: [[1.573, 22.45, 29.8, 3, 28.3]], spans: [[0.85, 2.19, 21.3]], stars: [["*", 2.31, 31.4]]
});
barPanel({
  title: "Roast  aroma", means: roastMeans, errs: roastErrs, max: 40, stepY: 8,
  titleX: 2664, axis: 2825, right: 3459, top: 1942, bottom: 2642, c1: 2949, step: 190,
  brackets: [[1, 38.6, 39.4, 2, 36], [2.05, 36.25, 37.6, 3, 25.5]], stars: [["*", 1.47, 40.8], ["**", 2.5, 40.2]]
});

// ---- headings and panel letters
const HEAD = "bold 56px " + SERIF;
addText("First level", 270, 63, HEAD, 1.15);
addText("Second level", 742, 70, HEAD, 1.15);
addText("Third level", 1203, 70, HEAD, 1.15);
addText("Value", 2021, 125, "bold 37px " + SERIF);
addText("Value=1/<i>P</i>", 2304, 109, "bold 37px " + SERIF);
addText("Value", 2302, 580, "bold 38px " + SERIF);
const LETTER = "118px " + SERIF;
[["A", 67, 83], ["B", 2166, 96], ["C", 50, 1017], ["D", 69, 1802], ["E", 1551, 981], ["F", 1562, 1949], ["G", 2562, 1000], ["H", 2564, 1964]]
  .forEach(l => addText(l[0], l[1], l[2], LETTER));
</script>
</body>
</html>
